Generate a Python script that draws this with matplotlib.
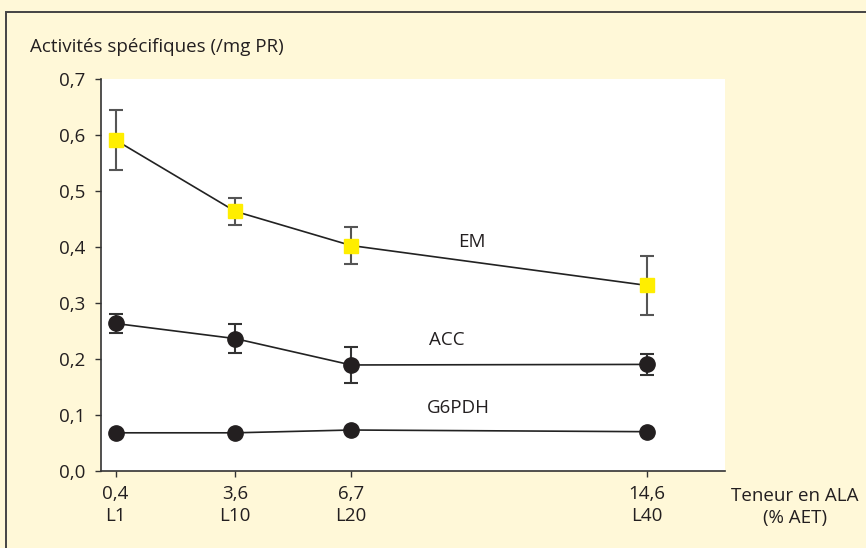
import matplotlib.pyplot as plt
from matplotlib.patches import Rectangle

# --- data ---
ala = [0.4, 3.6, 6.7, 14.6]
lots = ["L1", "L10", "L20", "L40"]

em = [0.591, 0.464, 0.403, 0.332]
em_err = [0.053, 0.024, 0.033, 0.052]

acc = [0.264, 0.237, 0.190, 0.191]
acc_err = [0.017, 0.026, 0.032, 0.018]

g6pdh = [0.069, 0.069, 0.074, 0.071]

yticks = [0.0, 0.1, 0.2, 0.3, 0.4, 0.5, 0.6, 0.7]

cream = "#fff8d8"
ink = "#231f20"
plt.rcParams['font.family'] = ['Open Sans', 'DejaVu Sans']
fs = 13.5

fig = plt.figure(figsize=(8.66, 5.48), dpi=100)
fig.patch.set_facecolor(cream)

# cadre du graphique
fig.patches.append(Rectangle((6 / 866, -0.05), 1.1, 1 - 12 / 548 + 0.05,
                             transform=fig.transFigure, fill=False,
                             edgecolor="#444444", lw=1.4))

ax = fig.add_axes([0.1163, 0.1396, 0.7209, 0.7162])
ax.set_facecolor("white")

ax.errorbar(ala, em, yerr=em_err, color="#222222", lw=1.2, ecolor="#555555",
            elinewidth=1.5, capsize=5, capthick=1.5, marker="s", ms=10,
            mfc="#ffee00", mec="#ffee00", zorder=3)
ax.errorbar(ala, acc, yerr=acc_err, color="#222222", lw=1.2, ecolor="#333333",
            elinewidth=1.5, capsize=5, capthick=1.5, marker="o", ms=11,
            mfc=ink, mec=ink, zorder=3)
ax.plot(ala, g6pdh, color="#222222", lw=1.2, marker="o", ms=11,
        mfc=ink, mec=ink, zorder=3)

ax.text(9.92, 0.410, "EM", fontsize=fs, color=ink, ha="center", va="center")
ax.text(9.25, 0.235, "ACC", fontsize=fs, color=ink, ha="center", va="center")
ax.text(9.57, 0.113, "G6PDH", fontsize=fs, color=ink, ha="center", va="center")

ax.set_xlim(0, 16.7)
ax.set_ylim(0, 0.7)
ax.set_xticks(ala)
ax.set_xticklabels([f"{str(v).replace('.', ',')}\n{l}" for v, l in zip(ala, lots)],
                   fontsize=fs, color=ink, linespacing=1.25)
ax.set_yticks(yticks)
ax.set_yticklabels([f"{v:.1f}".replace(".", ",") for v in yticks],
                   fontsize=fs, color=ink)
ax.tick_params(axis="y", length=4, width=1, color="#333333", pad=7)
ax.tick_params(axis="x", length=4, width=1, color="#333333", pad=6)

for s in ["top", "right"]:
    ax.spines[s].set_visible(False)
for s in ["left", "bottom"]:
    ax.spines[s].set_color("#333333")
    ax.spines[s].set_linewidth(1.2)

fig.text(30 / 866, 1 - 47 / 548, "Activités spécifiques (/mg PR)", fontsize=fs,
         color=ink, ha="left", va="center")
fig.text(795 / 866, 1 - 507 / 548, "Teneur en ALA\n(% AET)", fontsize=fs,
         color=ink, ha="center", va="center", linespacing=1.25)

fig.savefig("out.png", dpi=100, facecolor=cream)
